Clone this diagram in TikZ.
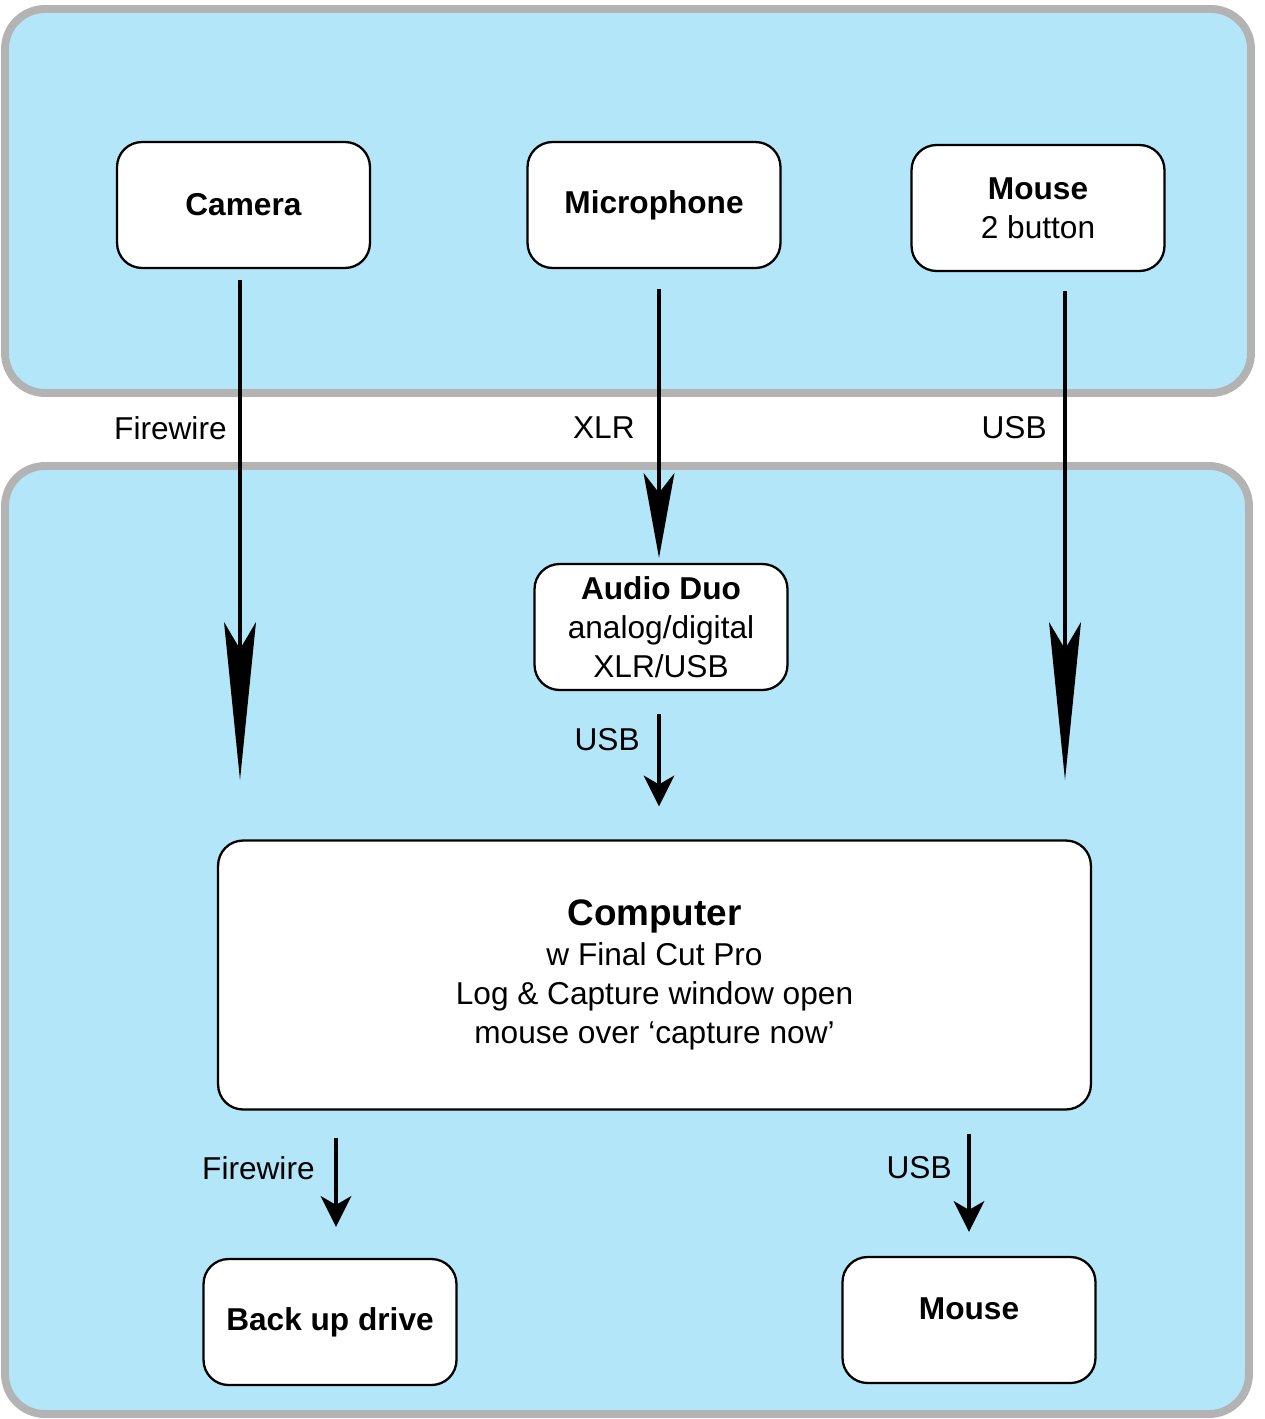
\documentclass[tikz,border=0pt]{standalone}
\usepackage{fontspec}
\setmainfont{Liberation Sans}
\usetikzlibrary{arrows.meta}

\definecolor{panelblue}{HTML}{B3E6F8}
\definecolor{panelgray}{HTML}{B3B3B3}

\tikzset{
    panel/.style={
        fill=panelblue,
        draw=panelgray,
        line width=4.5pt,
        rounded corners=0.8cm
        },
    unit/.style={
        draw,
        fill=white,
        line width=1.3pt,
        rounded corners=0.5cm,
        minimum width=5.06cm,
        minimum height=2.52cm,
        align=center,
        inner sep=0pt,
        font=\fontsize{18}{22.3}\selectfont
        },
    lbl/.style={
        inner sep=0pt,
        font=\fontsize{18}{22}\selectfont
        },
    wire/.style={line width=2.8pt},
    longtip/.style={-{Stealth[length=3.16cm,width=0.64cm,inset=0.54cm,line width=0pt]}},
    midtip/.style={-{Stealth[length=1.7cm,width=0.62cm,inset=0.4cm,line width=0pt]}},
    shorttip/.style={-{Stealth[length=0.62cm,width=0.62cm,inset=0.18cm,line width=0pt]}}
}

\begin{document}
\begin{tikzpicture}[x=0.02cm,y=-0.02cm]

\useasboundingbox (0,0) rectangle (1264,1419);

%panels
\draw[panel] (5,9) rectangle (1251,393);
\draw[panel] (5,466) rectangle (1249,1414);

%devices
\node[unit] (camera) at (243.5,205) {\textbf{Camera}};
\node[unit] (mic) at (654,205) {\textbf{Microphone}};
\node[unit] (mouse) at (1038,208) {\textbf{Mouse}\\2 button};
\node[unit] (audio) at (661,627) {\textbf{Audio Duo}\\analog/digital\\XLR/USB};
\node[unit,
        minimum width=17.46cm,
        minimum height=5.38cm
        ] (computer) at (654.5,975)
        {{\fontsize{21}{24}\selectfont\bfseries Computer}\\
         w Final Cut Pro\\
         Log \& Capture window open\\
         mouse over `capture now'};
\node[unit] (backup) at (330,1322) {\textbf{Back up drive}};
\node[unit,text depth=0.44cm] (mousetwo) at (969,1320) {\textbf{Mouse}};

%free ends
\coordinate (fwfoot) at (240,780);
\coordinate (usbfoot) at (1065,780);
\coordinate (xlrtop) at ([xshift=0.1cm]mic.south);
\coordinate (duofoot) at ([xshift=-0.04cm]audio.south);
\coordinate (bufoot) at ([xshift=0.12cm]backup.north);

%connectors
\draw[wire,longtip,shorten <=0.22cm] (camera.south -| fwfoot) -- (fwfoot);
\draw[wire,midtip,shorten <=0.4cm,shorten >=0.1cm] (xlrtop) -- (xlrtop |- audio.north);
\draw[wire,longtip,shorten <=0.38cm] (mouse.south -| usbfoot) -- (usbfoot);
\draw[wire,shorttip,shorten <=0.46cm,shorten >=0.66cm] (duofoot) -- (duofoot |- computer.north);
\draw[wire,shorttip,shorten <=0.54cm,shorten >=0.62cm] (bufoot |- computer.south) -- (bufoot);
\draw[wire,shorttip,shorten <=0.46cm,shorten >=0.48cm] (mousetwo.north |- computer.south) -- (mousetwo.north);

%connector labels
\node[lbl,anchor=east] (fwlabel) at (227,428) {Firewire};
\node[lbl,anchor=east] (xlrlabel) at (635,428) {XLR};
\node[lbl,anchor=east] (usblabel) at (1047,428) {USB};
\node[lbl,anchor=east] (duolabel) at (640,740) {USB};
\node[lbl,anchor=east] (bulabel) at (315,1168) {Firewire};
\node[lbl,anchor=east] (mslabel) at (952,1168) {USB};

\end{tikzpicture}
\end{document}
